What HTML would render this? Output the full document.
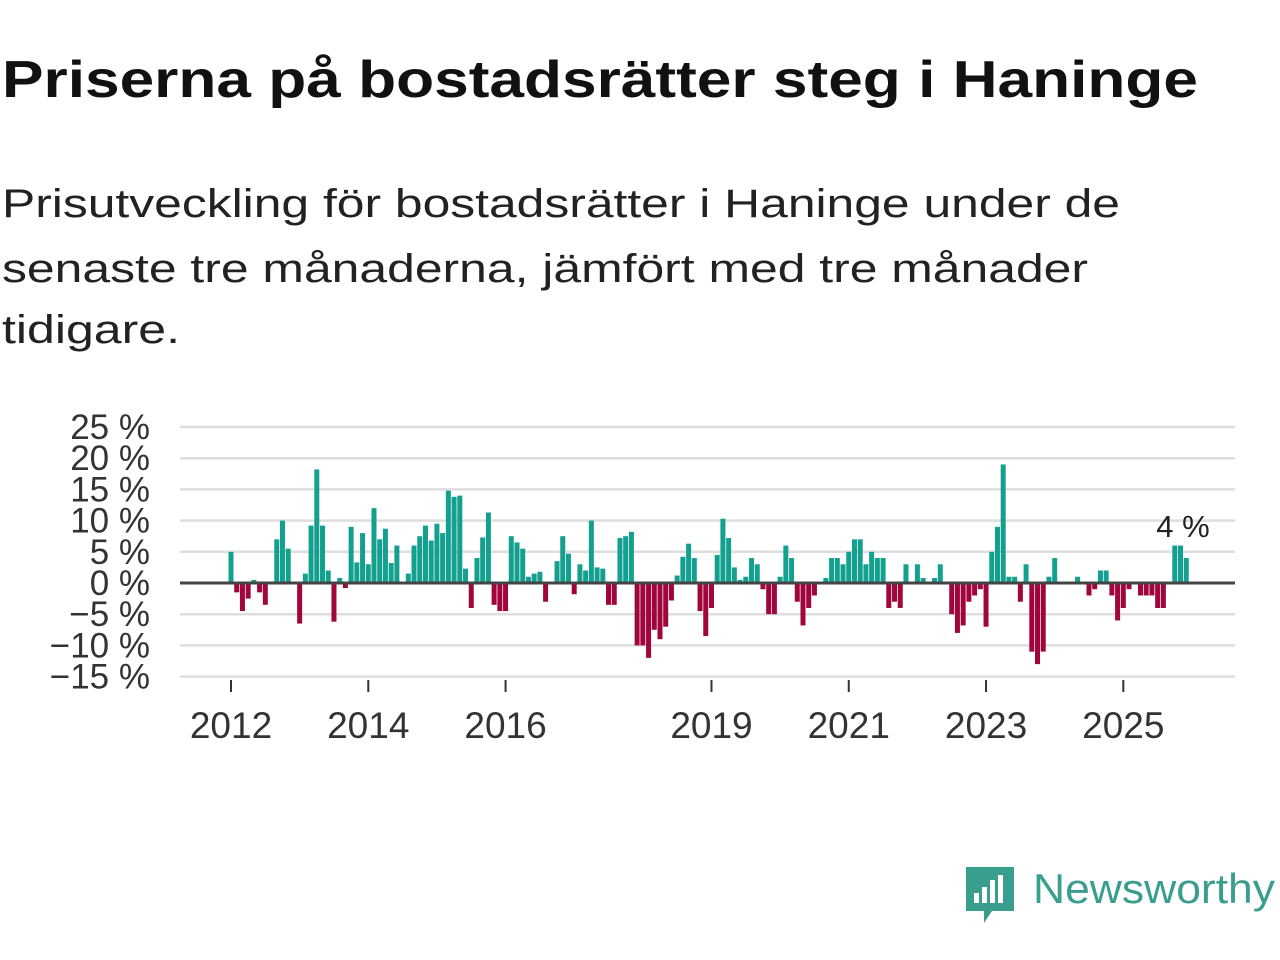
<!DOCTYPE html>
<html><head><meta charset="utf-8"><style>body{margin:0;background:#fff}svg{display:block;font-family:"Liberation Sans","DejaVu Sans",sans-serif}</style></head>
<body>
<svg id="c" width="1280" height="960">
<text x="2" y="97" font-size="52" font-weight="bold" fill="#111" textLength="1196" lengthAdjust="spacingAndGlyphs">Priserna på bostadsrätter steg i Haninge</text>
<g font-size="40" fill="#222">
<text x="2" y="217" textLength="1118" lengthAdjust="spacingAndGlyphs">Prisutveckling för bostadsrätter i Haninge under de</text>
<text x="2" y="282" textLength="1086" lengthAdjust="spacingAndGlyphs">senaste tre månaderna, jämfört med tre månader</text>
<text x="2" y="343" textLength="178" lengthAdjust="spacingAndGlyphs">tidigare.</text>
</g>
<g id="grid"></g>
<g id="bars"></g>
<g id="axes"></g>
<text x="1183" y="537" font-size="31" fill="#222" text-anchor="middle">4 %</text>
<g>
<path d="M966 867h48v44h-22l-8 12v-12h-18z" fill="#3a9e8f"/>
<rect x="974" y="893" width="5" height="10" fill="#fff"/><rect x="982" y="887" width="5" height="16" fill="#fff"/><rect x="990" y="880" width="5" height="23" fill="#fff"/><rect x="998" y="875" width="5" height="28" fill="#fff"/>
<text x="1033" y="903" font-size="42" fill="#3a9e8f" textLength="242" lengthAdjust="spacingAndGlyphs">Newsworthy</text>
</g>
</svg>
<script>
const yTicks=[25,20,15,10,5,0,-5,-10,-15];
const yTickLabels=["25 %","20 %","15 %","10 %","5 %","0 %","−5 %","−10 %","−15 %"];
const xTickYears=[2012,2014,2016,2019,2021,2023,2025];
const startYear=2012;
const values=[
5,-1.5,-4.5,-2.5,0.5,-1.5,-3.5,0,7,10,5.5,0,
-6.5,1.5,9.2,18.2,9.2,2,-6.2,0.8,-0.8,9,3.3,8,
3,12,7,8.7,3.2,6,0,1.5,6,7.5,9.2,6.8,
9.5,8,14.8,13.8,14,2.3,-4,4,7.3,11.3,-3.5,-4.5,
-4.5,7.5,6.5,5.5,1,1.5,1.8,-3,0,3.5,7.5,4.7,
-1.8,3,2,10,2.5,2.3,-3.5,-3.5,7.2,7.5,8.2,-10,
-10,-12,-7.5,-9,-7,-2.8,1.2,4.2,6.3,4,-4.5,-8.5,
-4,4.5,10.3,7.2,2.5,0.5,1,4,3,-1,-5,-5,
1,6,4,-3,-6.8,-4,-2,0,0.8,4,4,3,
5,7,7,3,5,4,4,-4,-3,-4,3,0,
3,0.8,0,0.8,3,0,-5,-8,-6.8,-3,-2,-1,
-7,5,9,19,1,1,-3,3,-11,-13,-11,1,
4,0,0,0,1,0,-2,-1,2,2,-2,-6,
-4,-1,0,-2,-2,-2,-4,-4,0,6,6,4];
const NS="http://www.w3.org/2000/svg";
const y=v=>583-v*6.24;
const x=i=>231+i*5.72;
function mk(t,a,p){const e=document.createElementNS(NS,t);for(const k in a)e.setAttribute(k,a[k]);p.appendChild(e);return e;}
const grid=document.getElementById('grid'),bars=document.getElementById('bars'),axes=document.getElementById('axes');
yTicks.forEach((v,k)=>{
 if(v!==0){const l=mk('line',{x1:180,x2:1235,y1:y(v),y2:y(v),stroke:'#dedede','stroke-width':2.5},grid);
 
 }
 const t=mk('text',{x:150,y:y(v)+12,'font-size':35,fill:'#333','text-anchor':'end'},axes);
 t.textContent=yTickLabels[k];
 
 
});
values.forEach((v,i)=>{
 if(v===0)return;
 const r=mk('rect',{x:x(i)-2.5,y:Math.min(y(v),y(0)),width:5,height:Math.abs(y(v)-y(0)),fill:v>0?'#14a08f':'#a0063c'},bars);
 
 
});
const z=mk('line',{x1:180,x2:1235,y1:y(0),y2:y(0),stroke:'#444','stroke-width':3},axes);


xTickYears.forEach(yr=>{
 const xi=x((yr-startYear)*12);
 const tk=mk('line',{x1:xi,x2:xi,y1:680,y2:692,stroke:'#333','stroke-width':2},axes);
 
 
 const t=mk('text',{x:xi,y:738,'font-size':37,fill:'#333','text-anchor':'middle'},axes);
 t.textContent=yr;
 
 
});
</script>
</body></html>
